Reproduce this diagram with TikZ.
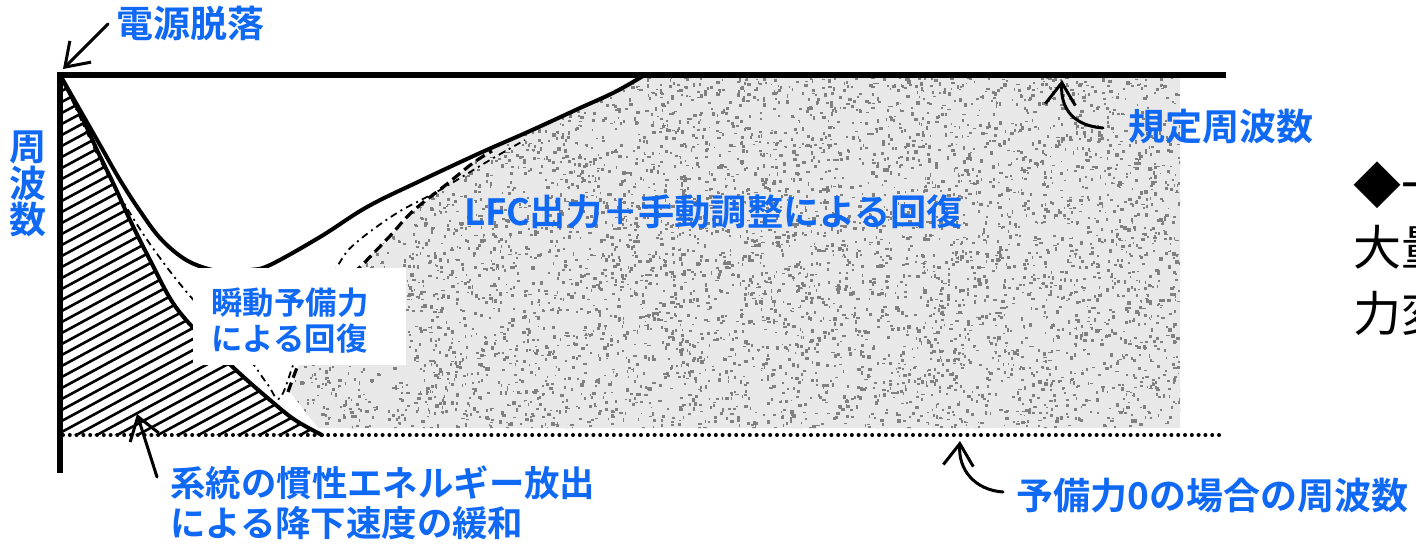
\documentclass[tikz,border=0pt]{standalone}
\usepackage{fontspec}
\newfontfamily\jp{Noto Sans CJK JP}[BoldFont={Noto Sans CJK JP Bold}]
\usetikzlibrary{arrows.meta}
\definecolor{lblblue}{RGB}{15,105,245}
\begin{document}
\begin{tikzpicture}[x=0.5pt,y=-0.5pt,
 lbl/.style={text=lblblue,font=\jp\bfseries\fontsize{18.5pt}{22pt}\selectfont,inner sep=0pt,anchor=base west},
 lblsm/.style={lbl,font=\jp\bfseries\fontsize{15.7pt}{19pt}\selectfont},
 lblmd/.style={lbl,font=\jp\bfseries\fontsize{17.7pt}{21pt}\selectfont},
 lbllfc/.style={lbl,font=\jp\bfseries\fontsize{18.1pt}{22pt}\selectfont},
 bodytxt/.style={text=black,font=\jp\fontsize{24pt}{28pt}\selectfont,inner sep=0pt,anchor=base west},
 curve/.style={line width=2pt,line join=round,line cap=round},
 dashcurve/.style={line width=1.6pt,dash pattern=on 5pt off 2.6pt},
 dashdotcurve/.style={line width=0.9pt,dash pattern=on 3.5pt off 2.2pt on 1pt off 2.2pt},
 hatchline/.style={line width=1.3pt},
 frame/.style={line width=2.6pt,line join=miter},
 dotline/.style={line width=2pt,line cap=round,dash pattern=on 0pt off 3.4pt},
 pointer/.style={line width=1.5pt,line cap=round,-{Straight Barb[length=11pt,width=15pt,line width=1.5pt]}},
 speck/.style={fill=black!50},
]
\clip (0,0) rectangle (1416,545);
\fill[white] (0,0) rectangle (1416,545);
% stippled recovery area
\begin{scope}
\clip (643,76) -- (1180,76) -- (1180,428) -- (318,428) -- (290,392) -- (305,345) -- (330,300) -- (367,260) -- (413,212) -- (447,184) -- (485,152) -- (580,107) -- cycle;
\fill[black!9] (280,70) rectangle (1190,432);
\pgfmathsetseed{7}
\foreach \i in {1,...,6000} {\fill[speck] ({285+rnd*900},{72+rnd*360}) rectangle ++({1.2+rnd*2.6},{1.2+rnd*2.6});}
\end{scope}
% hatched area
\begin{scope}
\clip (60,75) -- plot[smooth,tension=0.6] coordinates {(60,75) (80,113) (97,150) (115,187) (130,220) (150,260) (173,303) (200,335) (237,371) (270,400) (295,420) (322,435)} -- (60,435) -- cycle;
\foreach \k in {0,...,48} \draw[hatchline] (58,{82+11*\k}) -- ++(320,-173);
\end{scope}
% curves
\draw[curve] plot[smooth,tension=0.6] coordinates {(60,75) (80,113) (97,150) (115,187) (130,220) (150,260) (173,303) (200,335) (237,371) (270,400) (295,420) (322,435)};
\draw[dashdotcurve] plot[smooth,tension=0.6] coordinates {(64,82) (100,160) (133,218) (160,258) (190,296) (222,330) (250,360) (268,385) (280,398) (295,360) (315,310) (340,262) (357,242) (397,213) (440,190) (490,160) (525,140)};
\draw[dashcurve] plot[smooth,tension=0.6] coordinates {(288,392) (300,360) (318,320) (340,288) (367,260) (390,236) (413,211) (447,184) (473,163) (492,151)};
\draw[curve] plot[smooth,tension=0.6] coordinates {(60,75) (80,110) (100,145) (120,180) (140,211) (160,238) (183,258) (205,268) (228,272) (250,270) (270,265) (320,237) (367,207) (420,181) (480,153) (530,131) (580,108) (615,92) (643,76)};
% white label box
\node[fill=white,inner sep=0pt,minimum width=106.5pt,minimum height=48.5pt] (rbox) at (299.5,316.5) {};
\node[lblsm] (rtxt1) at (211,314) {瞬動予備力};
\node[lblsm] (rtxt2) at (211,350) {による回復};
% frame
\coordinate (O) at (60,75);
\coordinate (topEnd) at (1226,75);
\coordinate (axisEnd) at (60,473);
\coordinate (dotStart) at (63,435);
\coordinate (dotEnd) at (1219,435);
\draw[frame] (topEnd) -- (O) -- (axisEnd);
\draw[dotline] (dotStart) -- (dotEnd);
% labels
\node[lbl] (trip) at (116,38) {電源脱落};
\node[lbl,anchor=base] (ax1) at (28.5,161) {周};
\node[lbl,anchor=base] (ax2) at (28.5,197.5) {波};
\node[lbl,anchor=base] (ax3) at (28.5,234) {数};
\node[lbl] (nominal) at (1128,141) {規定周波数};
\node[lbllfc] (lfc) at (464,225) {LFC出力＋手動調整による回復};
\node[lblmd] (inert1) at (170,496.5) {系統の慣性エネルギー放出};
\node[lblmd] (inert2) at (170,536.5) {による降下速度の緩和};
\node[lbl] (zero) at (1016,509) {予備力0の場合の周波数};
\node[bodytxt] (side1) at (1353,204) {◆一};
\node[bodytxt] (side2) at (1353,265) {大量};
\node[bodytxt] (side3) at (1353,331) {力変};
% pointers
\coordinate (tripTail) at (108,24);
\coordinate (tripTip) at (63,69);
\draw[pointer] (tripTail) -- (tripTip);
\coordinate (nomTail) at (1103,128);
\coordinate (nomTip) at (1062,80);
\draw[pointer] (nomTail) .. controls (1075,126) and (1060,110) .. (nomTip);
\coordinate (zeroTail) at (1003,492);
\coordinate (zeroTip) at (960,441);
\draw[pointer] (zeroTail) .. controls (975,490) and (958,470) .. (zeroTip);
\coordinate (inTail) at (157,477);
\coordinate (inTip) at (137,414);
\draw[pointer] (inTail) -- (inTip);
\end{tikzpicture}
\end{document}
